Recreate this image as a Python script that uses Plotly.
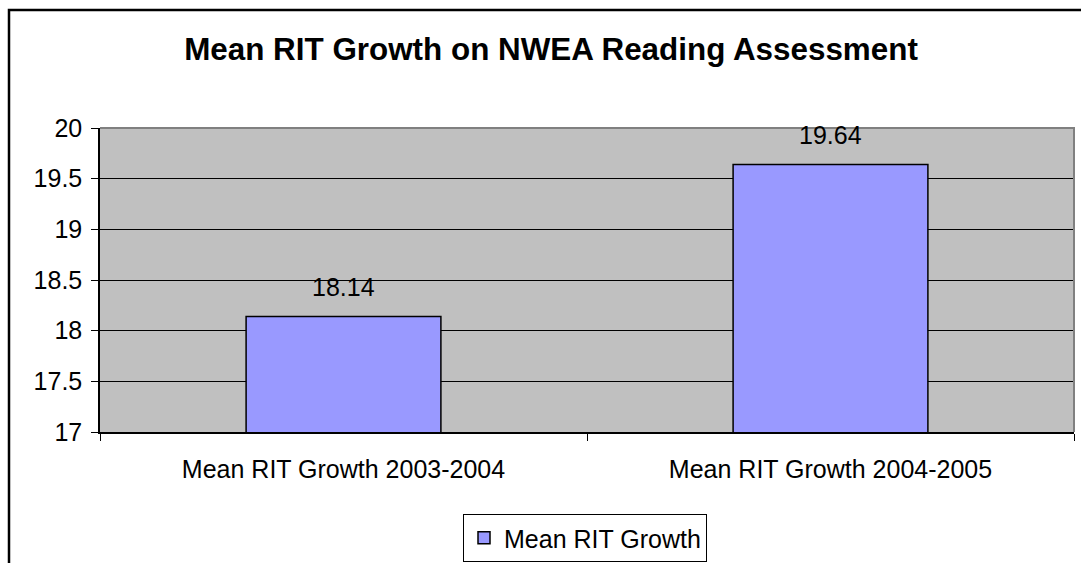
import plotly.graph_objects as go

categories = ["Mean RIT Growth 2003-2004", "Mean RIT Growth 2004-2005"]
values = [18.14, 19.64]
value_labels = ["18.14", "19.64"]
series_name = "Mean RIT Growth"
title_text = "Mean RIT Growth on NWEA Reading Assessment"
y_ticks = [17, 17.5, 18, 18.5, 19, 19.5, 20]
y_tick_text = ["17", "17.5", "18", "18.5", "19", "19.5", "20"]

W, H = 1081, 563
L, R, T, B = 100, 1074, 128, 432  # plot area pixel edges

def px_x(px):
    return (px - L) / (R - L)

def px_y(py):
    return (B - py) / (B - T)

FONT = "Arial, Liberation Sans, sans-serif"
FS = 25

fig = go.Figure()
fig.add_trace(go.Bar(
    x=categories, y=values, name=series_name,
    marker=dict(color="#9999FF", line=dict(color="black", width=1.5)),
    showlegend=True,
))

for c, v, t in zip(categories, values, value_labels):
    fig.add_annotation(x=c, y=v, text=t, showarrow=False, yanchor="bottom",
                       yshift=13, font=dict(family=FONT, size=FS, color="black"))

fig.update_layout(
    width=W, height=H,
    margin=dict(l=L, r=W - R, t=T, b=H - B, pad=0, autoexpand=False),
    paper_bgcolor="white",
    plot_bgcolor="#C0C0C0",
    bargap=0.6,
    font=dict(family=FONT, size=FS, color="black"),
    title=dict(text="<b>" + title_text + "</b>", x=551 / W, xanchor="center",
               y=1 - 49 / H, yanchor="middle",
               font=dict(family=FONT, size=31.4, color="black")),
    showlegend=True,
    legend=dict(x=px_x(585), xanchor="center", y=px_y(514), yanchor="top",
                orientation="h", bordercolor="black", borderwidth=1,
                bgcolor="white", font=dict(family=FONT, size=FS, color="black")),
    xaxis=dict(type="category", showline=True, linecolor="black", linewidth=1.5,
               ticks="outside", tickson="boundaries", ticklen=7, tickcolor="black",
               ticklabelstandoff=14, automargin=False,
               showgrid=False, tickfont=dict(family=FONT, size=FS, color="black")),
    yaxis=dict(range=[17, 20], tickvals=y_ticks, ticktext=y_tick_text,
               showline=True, linecolor="black", linewidth=1.5,
               ticks="outside", ticklen=7, tickcolor="black",
               ticklabelstandoff=4, automargin=False,
               showgrid=True, gridcolor="black", gridwidth=1, zeroline=False,
               tickfont=dict(family=FONT, size=FS, color="black")),
    shapes=[
        # plot area gray border (top and right)
        dict(type="path", xref="paper", yref="paper",
             path="M 0,1 L 1,1 L 1,0", line=dict(color="#808080", width=2), layer="above"),
        # outer chart border
        dict(type="rect", xref="paper", yref="paper",
             x0=px_x(9), x1=px_x(1100), y0=px_y(600), y1=px_y(10),
             line=dict(color="black", width=2.5), fillcolor="rgba(0,0,0,0)", layer="above"),
    ],
)

fig.write_html("out.html", config={"displayModeBar": False},
               post_script="document.body.style.margin='0';document.body.style.overflow='hidden';")
